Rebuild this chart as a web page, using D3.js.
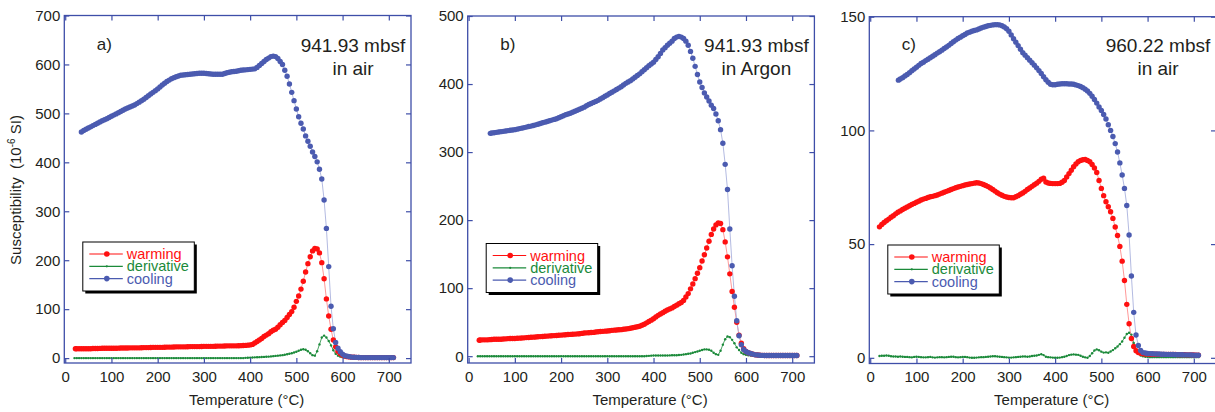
<!DOCTYPE html>
<html>
<head>
<meta charset="utf-8">
<script src="https://cdn.jsdelivr.net/npm/d3@7"></script>
<style>
body { margin: 0; background: #fff; }
text { font-family: "Liberation Sans", Arial, sans-serif; fill: #231f20; }
</style>
</head>
<body>
<svg id="chart" width="1215" height="412"></svg>
<script>
// [temperature °C, susceptibility 10^-6 SI]
var aWarming = [[22,19],[25,19],[30,19],[35,19],[40,19],[45,19],[50,19],[55,19.2],[60,19.5],[65,19.5],[70,19.5],[75,19.8],[80,20],[85,20],[90,20],[95,20],[100,20],[105,20],[110,20],[115,20.3],[120,20.5],[125,20.5],[130,20.5],[135,20.8],[140,21],[145,21],[150,21],[155,21],[160,21],[165,21.3],[170,21.5],[175,21.5],[180,21.5],[185,21.8],[190,22],[195,22],[200,22],[205,22],[210,22],[215,22.3],[220,22.5],[225,22.5],[230,22.5],[235,22.8],[240,23],[245,23],[250,23],[255,23],[260,23],[265,23.3],[270,23.5],[275,23.5],[280,23.5],[285,23.5],[290,23.5],[295,23.8],[300,24],[305,24],[310,24],[315,24],[320,24],[325,24.3],[330,24.5],[335,24.5],[340,24.5],[345,24.8],[350,25],[355,25],[360,25],[365,25],[370,25],[375,25.3],[380,25.5],[385,25.8],[390,26],[395,26.5],[400,27],[405,28],[410,31],[415,34],[420,37],[425,40],[430,44],[435,47],[440,50],[445,54],[450,57],[455,59],[460,63],[465,68],[470,73],[475,77],[480,83],[485,89],[490,95],[495,104],[500,116],[505,127],[510,141],[515,157],[520,176],[525,193],[530,207],[535,219],[540,224],[545,223],[550,215],[555,195],[560,162],[565,121],[570,86],[575,59],[580,37],[585,23],[590,14],[595,9],[600,6],[605,4],[610,3],[615,2.5],[620,2],[625,1.8],[630,1.5],[635,1.2],[640,1],[645,1],[650,1],[655,1],[660,1],[665,1],[670,1],[675,1],[680,1],[685,1],[690,1],[695,1],[700,1],[705,1],[710,1]];
var aDerivative = [[20,0],[25,0],[30,0],[35,0],[40,0],[45,0],[50,0],[55,0],[60,0],[65,0],[70,0],[75,0],[80,0],[85,0],[90,0],[95,0],[100,0],[105,0],[110,0],[115,0],[120,0],[125,0],[130,0],[135,0],[140,0],[145,0],[150,0],[155,0],[160,0],[165,0],[170,0],[175,0],[180,0],[185,0],[190,0],[195,0],[200,0],[205,0],[210,0],[215,0],[220,0],[225,0],[230,0],[235,0],[240,0],[245,0],[250,0],[255,0],[260,0],[265,0],[270,0],[275,0],[280,0],[285,0],[290,0],[295,0],[300,0],[305,0],[310,0],[315,0],[320,0],[325,0],[330,0],[335,0],[340,0],[345,0],[350,0],[355,0],[360,0],[365,0],[370,0],[375,0],[380,0],[385,0],[390,0.5],[395,0.8],[400,1],[405,1.2],[410,1.5],[415,1.8],[420,2],[425,2.2],[430,2.5],[435,2.8],[440,3],[445,3.5],[450,4],[455,4.5],[460,5],[465,5.5],[470,6],[475,7],[480,8],[485,9],[490,10],[495,11.5],[500,13],[505,15],[510,17],[515,18],[520,17],[525,14],[530,10],[535,6],[540,5],[545,14],[550,28],[555,42],[560,46],[565,42],[570,35],[575,26],[580,16],[585,9],[590,5],[595,3],[600,2],[605,1.5],[610,1],[615,0.7],[620,0.5],[625,0.2],[630,0],[635,0],[640,0],[645,0],[650,0],[655,0],[660,0],[665,0],[670,0],[675,0],[680,0],[685,0],[690,0],[695,0],[700,0],[705,0],[710,0]];
var aCooling = [[35,462],[40,465],[45,467.5],[50,470],[55,472.5],[60,475],[65,477.5],[70,480],[75,482.5],[80,485],[85,487],[90,489],[95,491.5],[100,494],[105,496.5],[110,499],[115,501.5],[120,504],[125,506.5],[130,509],[135,511],[140,513],[145,515],[150,517],[155,520],[160,523],[165,526],[170,529],[175,532.5],[180,536],[185,539.5],[190,543],[195,546.5],[200,550],[205,554],[210,558],[215,561.5],[220,565],[225,568],[230,571],[235,573],[240,575],[245,576.5],[250,578],[255,578.5],[260,579],[265,579.5],[270,580],[275,580.5],[280,581],[285,581.5],[290,582],[295,582],[300,582],[305,581.5],[310,581],[315,580.5],[320,580],[325,580],[330,580],[335,580],[340,580],[345,581.5],[350,583],[355,584],[360,585],[365,585.5],[370,586],[375,587],[380,588],[385,588.5],[390,589],[395,589.5],[400,590],[405,590.5],[410,591],[415,594],[420,598],[425,602],[430,606],[435,610],[440,613],[445,616],[450,617],[455,616],[460,612],[465,606],[470,600],[475,588],[480,576],[485,560],[490,543],[495,526],[500,509],[505,493],[510,480],[515,468],[520,454],[525,443],[530,433],[535,421],[540,412],[545,401],[550,386],[555,366],[560,323],[565,265],[570,187],[575,106],[580,60],[585,32],[590,20],[595,13],[600,8],[605,5],[610,4],[615,3],[620,2],[625,1.8],[630,1.5],[635,1.2],[640,1],[645,1],[650,1],[655,1],[660,1],[665,1],[670,1],[675,1],[680,1],[685,1],[690,1],[695,1],[700,1],[705,1],[710,1]];

var bWarming = [[23,23.5],[25,23.7],[30,24],[35,24],[40,24],[45,24.3],[50,24.5],[55,24.8],[60,25],[65,25],[70,25],[75,25.3],[80,25.5],[85,25.8],[90,26],[95,26],[100,26],[105,26.3],[110,26.5],[115,26.8],[120,27],[125,27.3],[130,27.5],[135,27.8],[140,28],[145,28.3],[150,28.5],[155,28.8],[160,29],[165,29.3],[170,29.5],[175,29.8],[180,30],[185,30.3],[190,30.5],[195,30.8],[200,31],[205,31.3],[210,31.5],[215,31.8],[220,32],[225,32.3],[230,32.5],[235,32.8],[240,33],[245,33.5],[250,34],[255,34.3],[260,34.5],[265,34.8],[270,35],[275,35.5],[280,36],[285,36.3],[290,36.5],[295,36.8],[300,37],[305,37.5],[310,38],[315,38.3],[320,38.5],[325,38.8],[330,39],[335,39.5],[340,40],[345,40.5],[350,41],[355,41.8],[360,42.5],[365,43.2],[370,44],[375,45.5],[380,47],[385,49],[390,51],[395,53],[400,55],[405,57.5],[410,60],[415,62],[420,64],[425,66],[430,68],[435,69.5],[440,71],[445,73],[450,75],[455,77],[460,79],[465,82],[470,87],[475,92],[480,99],[485,106],[490,114],[495,122],[500,130],[505,140],[510,149],[515,159],[520,169],[525,179],[530,187],[535,193],[540,196],[545,195],[550,186],[555,168],[560,146],[565,121],[570,95],[575,72],[580,50],[585,31],[590,19],[595,11],[600,7],[605,5],[610,4],[615,3],[620,2],[625,1.8],[630,1.5],[635,1.2],[640,1],[645,1],[650,1],[655,1],[660,1],[665,1],[670,1],[675,1],[680,1],[685,1],[690,1],[695,1],[700,1],[705,1],[710,1]];
var bDerivative = [[20,0],[25,0],[30,0],[35,0],[40,0],[45,0],[50,0],[55,0],[60,0],[65,0],[70,0],[75,0],[80,0],[85,0],[90,0],[95,0],[100,0],[105,0],[110,0],[115,0],[120,0],[125,0],[130,0],[135,0],[140,0],[145,0],[150,0],[155,0],[160,0],[165,0],[170,0],[175,0],[180,0],[185,0],[190,0],[195,0],[200,0],[205,0],[210,0],[215,0],[220,0],[225,0],[230,0],[235,0],[240,0],[245,0],[250,0],[255,0],[260,0],[265,0],[270,0],[275,0],[280,0],[285,0],[290,0],[295,0],[300,0],[305,0],[310,0],[315,0],[320,0],[325,0],[330,0],[335,0],[340,0],[345,0],[350,0],[355,0],[360,0],[365,0],[370,0],[375,0],[380,0],[385,0.3],[390,0.5],[395,0.8],[400,1],[405,1],[410,1],[415,1],[420,1],[425,1],[430,1],[435,1.2],[440,1.5],[445,1.5],[450,1.5],[455,1.8],[460,2],[465,2.5],[470,3],[475,3.5],[480,4],[485,5],[490,6],[495,7],[500,8],[505,9],[510,10],[515,10],[520,9.5],[525,8],[530,5],[535,3],[540,2],[545,8],[550,17],[555,25],[560,29],[565,28],[570,24],[575,19],[580,13],[585,9],[590,5],[595,3],[600,2],[605,1.5],[610,1],[615,0.7],[620,0.5],[625,0.2],[630,0],[635,0],[640,0],[645,0],[650,0],[655,0],[660,0],[665,0],[670,0],[675,0],[680,0],[685,0],[690,0],[695,0],[700,0],[705,0],[710,0]];
var bCooling = [[47,327.5],[50,328],[55,328.5],[60,329],[65,329.5],[70,330],[75,330.5],[80,331],[85,331.5],[90,332],[95,332.5],[100,333],[105,333.7],[110,334.5],[115,335.2],[120,336],[125,336.7],[130,337.5],[135,338.2],[140,339],[145,340],[150,341],[155,342],[160,343],[165,344],[170,345],[175,346],[180,347],[185,348],[190,349],[195,350.5],[200,352],[205,353.5],[210,355],[215,356],[220,357],[225,358.5],[230,360],[235,361.5],[240,363],[245,364.5],[250,366],[255,368],[260,370],[265,371.5],[270,373],[275,374.5],[280,376],[285,378],[290,380],[295,382],[300,384],[305,386],[310,388],[315,390],[320,392],[325,394],[330,396],[335,398.5],[340,401],[345,403],[350,405],[355,407.5],[360,410],[365,412.5],[370,415],[375,418],[380,421],[385,424],[390,427],[395,429.5],[400,432],[405,436],[410,440],[415,445],[420,450],[425,453.5],[430,457],[435,460],[440,463],[445,467],[450,469],[455,470],[460,469],[465,467],[470,463],[475,457],[480,448],[485,438],[490,426],[495,414],[500,403],[505,395],[510,387],[515,381],[520,375],[525,369],[530,364],[535,356],[540,346],[545,333],[550,313],[555,282],[560,245],[565,187],[570,133],[575,88],[580,52],[585,30],[590,17],[595,10],[600,7],[605,5],[610,4],[615,3],[620,2],[625,1.8],[630,1.5],[635,1.2],[640,1],[645,1],[650,1],[655,1],[660,1],[665,1],[670,1],[675,1],[680,1],[685,1],[690,1],[695,1],[700,1],[705,1],[710,1]];

var cWarming = [[20,57.6],[25,58.6],[30,59.5],[35,60.3],[40,61],[45,61.8],[50,62.5],[55,63.3],[60,64],[65,64.6],[70,65.2],[75,65.8],[80,66.3],[85,66.9],[90,67.4],[95,67.9],[100,68.4],[105,68.9],[110,69.4],[115,69.8],[120,70.1],[125,70.5],[130,70.8],[135,71],[140,71.3],[145,71.6],[150,72],[155,72.4],[160,72.8],[165,73.2],[170,73.6],[175,74],[180,74.4],[185,74.8],[190,75.1],[195,75.4],[200,75.7],[205,76],[210,76.2],[215,76.4],[220,76.6],[225,76.8],[230,77],[235,76.9],[240,76.6],[245,76.2],[250,75.8],[255,75.3],[260,74.7],[265,74],[270,73.3],[275,72.6],[280,72],[285,71.5],[290,71],[295,70.7],[300,70.5],[305,70.4],[310,70.4],[315,70.8],[320,71.3],[325,71.9],[330,72.5],[335,73.2],[340,74],[345,74.7],[350,75.4],[355,76.1],[360,76.8],[365,77.6],[370,78.5],[375,79],[380,77.3],[385,76.9],[390,76.7],[395,76.6],[400,76.6],[405,76.6],[410,76.7],[415,77.2],[420,78],[425,79.5],[430,81],[435,82.5],[440,84],[445,85.2],[450,86.2],[455,86.8],[460,87.1],[465,87.2],[470,86.8],[475,86.2],[480,85],[485,83.5],[490,81.5],[495,78],[500,74.5],[505,71.3],[510,68.6],[515,66.4],[520,64.2],[525,61.3],[530,57.5],[535,53.8],[540,49],[545,42.5],[550,34],[555,23.5],[560,15],[565,8.5],[570,5],[575,3.1],[580,2.3],[585,2],[590,1.8],[595,1.7],[600,1.7],[605,1.6],[610,1.6],[615,1.6],[620,1.6],[625,1.5],[630,1.5],[635,1.5],[640,1.5],[645,1.5],[650,1.5],[655,1.5],[660,1.5],[665,1.4],[670,1.4],[675,1.4],[680,1.4],[685,1.3],[690,1.3],[695,1.3],[700,1.3],[705,1.2],[710,1.2]];
var cDerivative = [[20,0.8],[25,0.9],[30,0.9],[35,1],[40,0.9],[45,0.7],[50,0.6],[55,0.6],[60,0.5],[65,0.6],[70,0.5],[75,0.4],[80,0.4],[85,0.3],[90,0.2],[95,0.4],[100,0.5],[105,0.4],[110,0.3],[115,0.2],[120,0.2],[125,0.3],[130,0.4],[135,0.2],[140,0.1],[145,0.2],[150,0.3],[155,0.3],[160,0.2],[165,0.3],[170,0.4],[175,0.5],[180,0.5],[185,0.3],[190,0.2],[195,0.3],[200,0.4],[205,0.4],[210,0.3],[215,0.1],[220,0],[225,0],[230,0.1],[235,0.2],[240,0.3],[245,0.3],[250,0.4],[255,0.5],[260,0.6],[265,0.7],[270,0.7],[275,0.6],[280,0.5],[285,0.4],[290,0.3],[295,0.2],[300,0.1],[305,0.1],[310,0.2],[315,0.3],[320,0.4],[325,0.5],[330,0.6],[335,0.6],[340,0.5],[345,0.6],[350,0.8],[355,0.9],[360,1],[365,1.3],[370,1.6],[375,1.2],[380,0.5],[385,0.3],[390,0.2],[395,0.1],[400,0],[405,0],[410,0.1],[415,0.3],[420,0.5],[425,0.8],[430,1.2],[435,1.4],[440,1.5],[445,1.4],[450,1.3],[455,0.9],[460,0.5],[465,0.2],[470,0],[475,0.8],[480,2],[485,3.2],[490,3.7],[495,3.3],[500,2.7],[505,2.3],[510,2.4],[515,2.2],[520,2.8],[525,3.4],[530,4.2],[535,5],[540,6],[545,7.2],[550,8.8],[555,10.5],[560,11],[565,10.2],[570,6.5],[575,3.5],[580,1.9],[585,1],[590,0.7],[595,0.5],[600,0.4],[605,0.3],[610,0.3],[615,0.3],[620,0.3],[625,0.3],[630,0.3],[635,0.3],[640,0.3],[645,0.3],[650,0.3],[655,0.3],[660,0.3],[665,0.3],[670,0.3],[675,0.3],[680,0.3],[685,0.3],[690,0.3],[695,0.3],[700,0.3],[705,0.3],[710,0.3]];
var cCooling = [[61,122.1],[65,122.6],[70,123.2],[75,123.9],[80,124.6],[85,125.4],[90,126.2],[95,127],[100,127.8],[105,128.6],[110,129.4],[115,130],[120,130.7],[125,131.3],[130,132],[135,132.6],[140,133.3],[145,134],[150,134.6],[155,135.3],[160,136],[165,136.7],[170,137.4],[175,138.2],[180,139],[185,139.7],[190,140.4],[195,141],[200,141.6],[205,142.2],[210,142.8],[215,143.2],[220,143.6],[225,143.9],[230,144.2],[235,144.6],[240,145],[245,145.4],[250,145.7],[255,146],[260,146.2],[265,146.4],[270,146.5],[275,146.5],[280,146.4],[285,146],[290,145.5],[295,144.7],[300,143.6],[305,142],[310,140.3],[315,138.8],[320,137.3],[325,135.7],[330,134.2],[335,133.1],[340,132],[345,130.9],[350,129.8],[355,128.7],[360,127.5],[365,126.3],[370,125],[375,123.6],[380,122.3],[385,121.2],[390,120.3],[395,120.1],[400,120.1],[405,120.3],[410,120.4],[415,120.5],[420,120.5],[425,120.5],[430,120.4],[435,120.4],[440,120.3],[445,120],[450,119.7],[455,119.3],[460,118.8],[465,118.1],[470,117.3],[475,116.3],[480,115],[485,113.6],[490,112],[495,110.3],[500,108.8],[505,107],[510,105],[515,102.5],[520,100],[525,97.3],[530,94.2],[535,90.5],[540,85.7],[545,80.4],[550,74.5],[555,67],[560,54],[565,36],[570,20],[575,10],[580,5.4],[585,3.2],[590,2.3],[595,2.1],[600,1.9],[605,1.85],[610,1.8],[615,1.75],[620,1.7],[625,1.65],[630,1.6],[635,1.55],[640,1.5],[645,1.5],[650,1.5],[655,1.45],[660,1.4],[665,1.4],[670,1.4],[675,1.35],[680,1.3],[685,1.3],[690,1.3],[695,1.25],[700,1.2],[705,1.15],[710,1.1]];

var xTicks = [0, 100, 200, 300, 400, 500, 600, 700];
var aTicks = [0, 100, 200, 300, 400, 500, 600, 700];
var bTicks = [0, 100, 200, 300, 400, 500];
var cTicks = [0, 50, 100, 150];
var panelLabels = ["a)", "b)", "c)"];
var depthLabels = ["941.93 mbsf", "941.93 mbsf", "960.22 mbsf"];
var atmosLabels = ["in air", "in Argon", "in air"];
var seriesNames = ["warming", "derivative", "cooling"];

var red = "#ff1010", green = "#1b8a3a", blue = "#4b5bb0", frameCol = "#3e4ea8";

var panels = [
    {left: 64.3, top: 15.5, bottom: 363, yDom: [-10, 700], ticks: aTicks, w: aWarming, d: aDerivative, c: aCooling, legTop: 242},
    {left: 467.7, top: 16, bottom: 363, yDom: [-10, 500], ticks: bTicks, w: bWarming, d: bDerivative, c: bCooling, legTop: 243.5},
    {left: 869.3, top: 16.7, bottom: 363.5, yDom: [-2.5, 150], ticks: cTicks, w: cWarming, d: cDerivative, c: cCooling, legTop: 245}
];
var frameW = 346.7;

var svg = d3.select("#chart");

panels.forEach(function(p, i) {
    var right = p.left + frameW;
    var x = d3.scaleLinear().domain([-2, 748]).range([p.left, right]);
    var y = d3.scaleLinear().domain(p.yDom).range([p.bottom, p.top]);
    var g = svg.append("g");

    // connecting lines
    var line = d3.line().x(function(d) { return x(d[0]); }).y(function(d) { return y(d[1]); });
    g.append("path").attr("d", line(p.d)).attr("fill", "none").attr("stroke", green).attr("stroke-width", 0.8);
    g.append("path").attr("d", line(p.w)).attr("fill", "none").attr("stroke", "#ff8c8c").attr("stroke-width", 0.9);
    g.append("path").attr("d", line(p.c)).attr("fill", "none").attr("stroke", "#aab2de").attr("stroke-width", 0.9);

    g.selectAll(".dd").data(p.d).enter().append("circle")
        .attr("cx", function(d) { return x(d[0]); })
        .attr("cy", function(d) { return y(d[1]); })
        .attr("r", 1.2).attr("fill", green);
    g.selectAll(".dw").data(p.w).enter().append("circle")
        .attr("cx", function(d) { return x(d[0]); })
        .attr("cy", function(d) { return y(d[1]); })
        .attr("r", 2.7).attr("fill", red);
    g.selectAll(".dc").data(p.c).enter().append("circle")
        .attr("cx", function(d) { return x(d[0]); })
        .attr("cy", function(d) { return y(d[1]); })
        .attr("r", 2.7).attr("fill", blue);

    // frame + inward ticks on all sides
    g.append("rect").attr("x", p.left).attr("y", p.top)
        .attr("width", frameW).attr("height", p.bottom - p.top)
        .attr("fill", "none").attr("stroke", frameCol).attr("stroke-width", 1.3);

    var ax = g.append("g").attr("transform", "translate(0," + p.bottom + ")")
        .call(d3.axisBottom(x).tickValues(xTicks).tickSizeInner(-5).tickSizeOuter(0).tickPadding(8));
    var axTop = g.append("g").attr("transform", "translate(0," + p.top + ")")
        .call(d3.axisTop(x).tickValues(xTicks).tickSizeInner(-5).tickSizeOuter(0).tickFormat(""));
    var ay = g.append("g").attr("transform", "translate(" + p.left + ",0)")
        .call(d3.axisLeft(y).tickValues(p.ticks).tickSizeInner(-5).tickSizeOuter(0).tickPadding(4));
    var ayR = g.append("g").attr("transform", "translate(" + right + ",0)")
        .call(d3.axisRight(y).tickValues(p.ticks).tickSizeInner(-5).tickSizeOuter(0).tickFormat(""));
    [ax, axTop, ay, ayR].forEach(function(a) {
        a.select(".domain").remove();
        a.selectAll("line").attr("stroke", frameCol).attr("stroke-width", 1.2);
        a.selectAll("text").attr("font-size", 15).attr("fill", "#231f20")
            .attr("font-family", "'Liberation Sans', Arial, sans-serif");
    });

    // x title
    g.append("text").attr("x", (p.left + right) / 2 + 9).attr("y", 405)
        .attr("text-anchor", "middle").attr("font-size", 15).text("Temperature (°C)");

    // panel labels
    g.append("text").attr("x", p.left + 32.5).attr("y", 50).attr("font-size", 17).text(panelLabels[i]);
    g.append("text").attr("x", right - 58).attr("y", 51.5).attr("text-anchor", "middle")
        .attr("font-size", 19).text(depthLabels[i]);
    g.append("text").attr("x", right - 58).attr("y", 74.5).attr("text-anchor", "middle")
        .attr("font-size", 19).text(atmosLabels[i]);

    // legend
    var lx = p.left + 18.5, ly = p.legTop;
    var leg = g.append("g").attr("transform", "translate(" + lx + "," + ly + ")");
    leg.append("rect").attr("x", 2.5).attr("y", 2.5).attr("width", 111.5).attr("height", 49).attr("fill", "#000");
    leg.append("rect").attr("width", 111.5).attr("height", 49).attr("fill", "#fff").attr("stroke", "#000").attr("stroke-width", 1);
    var cols = [red, green, blue];
    var rowY = [12, 24.3, 36.6];
    seriesNames.forEach(function(name, k) {
        leg.append("line").attr("x1", 6.5).attr("x2", 40).attr("y1", rowY[k]).attr("y2", rowY[k])
            .attr("stroke", cols[k]).attr("stroke-width", 1.2);
        leg.append("circle").attr("cx", 24).attr("cy", rowY[k]).attr("r", k == 1 ? 1.1 : 2.8).attr("fill", cols[k]);
        leg.append("text").attr("x", 44).attr("y", rowY[k]).attr("dy", "0.35em")
            .attr("font-size", 14.5).style("fill", cols[k]).text(name);
    });
});

// y title (only on the first panel)
var yt = svg.append("text").attr("transform", "translate(21,190) rotate(-90)")
    .attr("text-anchor", "middle").attr("font-size", 15);
yt.append("tspan").text("Susceptibility\u00a0\u00a0(10");
yt.append("tspan").attr("dy", -6).attr("font-size", 10).text("-6");
yt.append("tspan").attr("dy", 6).text(" SI)");
</script>
</body>
</html>
